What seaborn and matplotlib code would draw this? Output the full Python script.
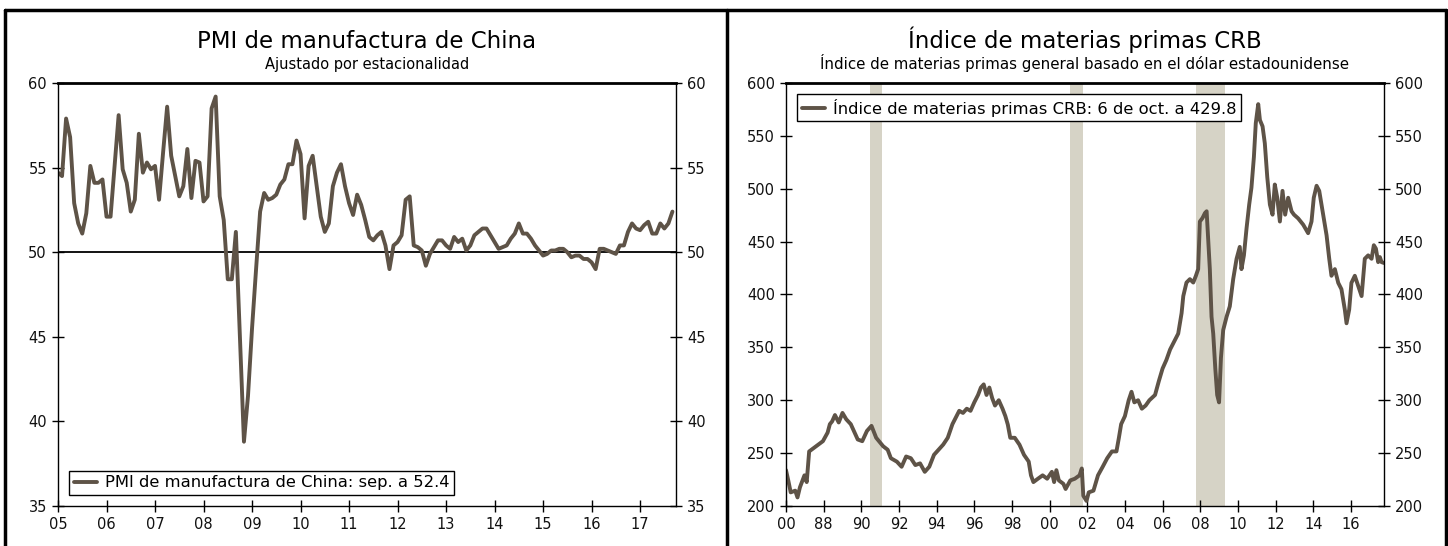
import matplotlib
matplotlib.use("Agg")
import matplotlib.pyplot as plt
import seaborn as sns
import pandas as pd
from matplotlib.lines import Line2D

# China manufacturing PMI, monthly from Jan 2005 to Sep 2017
pmi_values = [
    54.7, 54.5, 57.9, 56.8, 52.9, 51.7, 51.1, 52.3, 55.1, 54.1, 54.1, 54.3,
    52.1, 52.1, 55.1, 58.1, 54.9, 54.1, 52.4, 53.1, 57.0, 54.7, 55.3, 54.9,
    55.1, 53.1, 55.9, 58.6, 55.7, 54.5, 53.3, 53.9, 56.1, 53.2, 55.4, 55.3,
    53.0, 53.3, 58.5, 59.2, 53.3, 51.9, 48.4, 48.4, 51.2, 45.0, 38.8, 41.5,
    45.5, 49.0, 52.4, 53.5, 53.1, 53.2, 53.4, 54.0, 54.3, 55.2, 55.2, 56.6,
    55.8, 52.0, 55.1, 55.7, 53.9, 52.1, 51.2, 51.7, 53.9, 54.7, 55.2, 53.9,
    52.9, 52.2, 53.4, 52.8, 51.9, 50.9, 50.7, 51.0, 51.2, 50.4, 49.0, 50.4,
    50.6, 51.0, 53.1, 53.3, 50.4, 50.3, 50.1, 49.2, 49.9, 50.3, 50.7, 50.7,
    50.4, 50.2, 50.9, 50.6, 50.8, 50.1, 50.4, 51.0, 51.2, 51.4, 51.4, 51.0,
    50.6, 50.2, 50.3, 50.4, 50.8, 51.1, 51.7, 51.1, 51.1, 50.8, 50.4, 50.1,
    49.8, 49.9, 50.1, 50.1, 50.2, 50.2, 50.0, 49.7, 49.8, 49.8, 49.6, 49.6,
    49.4, 49.0, 50.2, 50.2, 50.1, 50.0, 49.9, 50.4, 50.4, 51.2, 51.7, 51.4,
    51.3, 51.6, 51.8, 51.1, 51.1, 51.7, 51.4, 51.7, 52.4,
]
pmi_years = [2005 + i / 12 for i in range(len(pmi_values))]

# CRB commodity index (decimal year, level)
crb_years = [
    1986.00, 1986.12, 1986.25, 1986.49, 1986.61, 1986.74, 1986.98, 1987.10,
    1987.23, 1987.60, 1987.96, 1988.21, 1988.33, 1988.45, 1988.60, 1988.80,
    1989.00, 1989.20, 1989.44, 1989.81, 1990.05, 1990.30, 1990.54, 1990.79,
    1991.16, 1991.40, 1991.57, 1991.89, 1992.14, 1992.38, 1992.63, 1992.87,
    1993.12, 1993.37, 1993.61, 1993.86, 1994.10, 1994.35, 1994.59, 1994.84,
    1995.00, 1995.20, 1995.40, 1995.60, 1995.80, 1996.00, 1996.20, 1996.35,
    1996.50, 1996.65, 1996.80, 1996.95, 1997.10, 1997.30, 1997.50, 1997.65,
    1997.78, 1997.91, 1998.15, 1998.40, 1998.64, 1998.89, 1999.01, 1999.14,
    1999.38, 1999.63, 1999.87, 2000.12, 2000.24, 2000.36, 2000.49, 2000.73,
    2000.85, 2001.10, 2001.34, 2001.59, 2001.71, 2001.79, 2001.96, 2002.08,
    2002.33, 2002.57, 2002.82, 2003.06, 2003.31, 2003.55, 2003.68, 2003.80,
    2004.00, 2004.20, 2004.35, 2004.50, 2004.70, 2004.90, 2005.10, 2005.30,
    2005.60, 2005.80, 2006.00, 2006.20, 2006.40, 2006.60, 2006.83, 2007.01,
    2007.10, 2007.27, 2007.45, 2007.63, 2007.77, 2007.89, 2007.98, 2008.12,
    2008.25, 2008.34, 2008.42, 2008.51, 2008.60, 2008.69, 2008.80, 2008.90,
    2009.00, 2009.10, 2009.22, 2009.40, 2009.57, 2009.75, 2009.93, 2010.10,
    2010.19, 2010.32, 2010.46, 2010.60, 2010.72, 2010.85, 2010.95, 2011.08,
    2011.17, 2011.31, 2011.43, 2011.56, 2011.70, 2011.84, 2011.96, 2012.09,
    2012.23, 2012.37, 2012.51, 2012.67, 2012.85, 2012.98, 2013.20, 2013.47,
    2013.73, 2013.91, 2014.03, 2014.18, 2014.32, 2014.44, 2014.56, 2014.71,
    2014.85, 2014.97, 2015.15, 2015.33, 2015.50, 2015.68, 2015.77, 2015.91,
    2016.03, 2016.21, 2016.39, 2016.57, 2016.74, 2016.92, 2017.10, 2017.22,
    2017.33, 2017.45, 2017.54, 2017.63, 2017.76,
]
crb_values = [
    233.9, 224.2, 212.9, 214.5, 208.1, 217.7, 229.0, 222.6,
    251.6, 256.5, 261.3, 269.4, 277.4, 280.0, 286.0, 279.0,
    288.0, 282.0, 277.4, 262.9, 261.3, 271.0, 275.8, 264.5,
    256.5, 253.2, 245.2, 241.9, 237.1, 246.8, 245.2, 238.7,
    240.3, 232.3, 237.1, 248.4, 253.2, 258.1, 264.5, 277.4,
    283.0, 290.0, 288.0, 292.0, 290.0, 298.0, 305.0, 312.0,
    315.0, 305.0, 312.0, 302.0, 295.0, 300.0, 292.0, 285.0,
    277.0, 264.5, 264.5, 258.0, 248.4, 242.0, 229.0, 222.6,
    225.8, 229.0, 225.8, 232.3, 222.6, 233.9, 224.2, 221.0,
    216.1, 224.2, 225.8, 229.0, 235.5, 209.7, 204.8, 212.9,
    214.5, 229.0, 237.1, 245.2, 251.6, 251.6, 264.5, 277.4,
    285.0, 300.0, 308.0, 298.0, 300.0, 292.0, 295.0, 300.0,
    305.0, 318.0, 330.0, 338.0, 348.0, 355.0, 363.0, 382.4,
    398.5, 411.3, 414.5, 411.3, 417.7, 424.0, 469.0, 472.3,
    477.0, 478.7, 453.0, 424.0, 379.0, 363.0, 330.0, 305.0,
    298.0, 340.0, 366.4, 379.0, 388.8, 414.5, 433.8, 445.0,
    424.0, 437.0, 462.6, 485.0, 501.0, 530.0, 562.0, 580.0,
    565.0, 559.0, 543.0, 511.0, 485.0, 475.5, 504.0, 491.5,
    469.0, 498.0, 475.5, 491.5, 478.7, 475.5, 472.0, 466.0,
    458.0, 469.0, 491.5, 502.8, 498.0, 485.0, 472.0, 456.0,
    434.0, 417.7, 424.0, 411.0, 405.0, 385.6, 372.8, 385.6,
    411.0, 417.7, 408.0, 398.5, 433.8, 437.0, 433.8, 446.6,
    443.4, 430.6, 435.4, 430.6, 429.8,
]

# US recession periods (shaded)
recession_start = [1990.45, 2001.07, 2007.75]
recession_end = [1991.08, 2001.76, 2009.32]

pmi_ticks = list(range(2005, 2018))
pmi_ticklabels = ["05", "06", "07", "08", "09", "10", "11", "12", "13", "14", "15", "16", "17"]
crb_ticks = list(range(1986, 2017, 2))
crb_ticklabels = ["00", "88", "90", "92", "94", "96", "98", "00", "02", "04", "06", "08",
                  "10", "12", "14", "16"]

pmi_df = pd.DataFrame({"year": pmi_years, "pmi": pmi_values})
crb_df = pd.DataFrame({"year": crb_years, "crb": crb_values})

sns.set_style("ticks")
plt.rcParams["font.family"] = ["DejaVu Sans"]
plt.rcParams["text.color"] = "black"

line_color = "#5e5347"
W, H = 1448, 546
fig = plt.figure(figsize=(W / 100, H / 100), dpi=100)
ax1 = fig.add_axes([58 / W, 1 - 506 / H, 618 / W, 423 / H])
ax2 = fig.add_axes([786 / W, 1 - 506 / H, 598 / W, 423 / H])

sns.lineplot(data=pmi_df, x="year", y="pmi", ax=ax1, color=line_color, lw=2.8,
             label="PMI de manufactura de China: sep. a 52.4")
ax1.axhline(50, color="black", lw=1.3, zorder=1)
ax1.set_xlim(2005, 2017.74)
ax1.set_ylim(35, 60)
ax1.set_yticks(range(35, 61, 5))
ax1.set_xticks(pmi_ticks)
ax1.set_xticklabels(pmi_ticklabels)

for a, b in zip(recession_start, recession_end):
    ax2.axvspan(a, b, color="#d6d3c6", lw=0, zorder=0)
sns.lineplot(data=crb_df, x="year", y="crb", ax=ax2, color=line_color, lw=2.8,
             label="Índice de materias primas CRB: 6 de oct. a 429.8")
ax2.set_xlim(1986, 2017.76)
ax2.set_ylim(200, 600)
ax2.set_yticks(range(200, 601, 50))
ax2.set_xticks(crb_ticks)
ax2.set_xticklabels(crb_ticklabels)

for ax, loc in [(ax1, "lower left"), (ax2, "upper left")]:
    ax.set_xlabel("")
    ax.set_ylabel("")
    for side in ["left", "right", "bottom"]:
        ax.spines[side].set_visible(True)
        ax.spines[side].set_linewidth(1.0)
        ax.spines[side].set_color("black")
    ax.spines["top"].set_visible(True)
    ax.spines["top"].set_linewidth(2.0)
    ax.spines["top"].set_color("black")
    ax.tick_params(axis="both", direction="inout", length=8, width=1.0,
                   labelsize=10.5, colors="black", labelcolor="#111111", pad=4)
    ax.tick_params(axis="y", left=True, right=True, labelleft=True, labelright=True)
    ax.tick_params(axis="x", top=False, bottom=True)
    leg = ax.legend(loc=loc, fontsize=11.8, frameon=True, fancybox=False,
                    borderaxespad=0.65, handlelength=1.4, handletextpad=0.5,
                    borderpad=0.3)
    leg.get_frame().set_edgecolor("black")
    leg.get_frame().set_linewidth(1.0)
    leg.get_frame().set_alpha(1)

# titles
fig.text(367 / W, 1 - 48 / H, "PMI de manufactura de China", ha="center", va="baseline",
         fontsize=16.5)
fig.text(367 / W, 1 - 69 / H, "Ajustado por estacionalidad", ha="center", va="baseline",
         fontsize=10.5)
fig.text(1085 / W, 1 - 48 / H, "Índice de materias primas CRB", ha="center", va="baseline",
         fontsize=16.5)
fig.text(1085 / W, 1 - 69 / H,
         "Índice de materias primas general basado en el dólar estadounidense",
         ha="center", va="baseline", fontsize=10.8)

# panel frame
frame_kw = dict(color="black", lw=2.5, transform=fig.transFigure)
fig.add_artist(Line2D([5 / W, 1446 / W], [1 - 10 / H, 1 - 10 / H], **frame_kw))
fig.add_artist(Line2D([5 / W, 5 / W], [0, 1 - 10 / H], **frame_kw))
fig.add_artist(Line2D([727 / W, 727 / W], [0, 1 - 10 / H], **frame_kw))
fig.add_artist(Line2D([1446 / W, 1446 / W], [0, 1 - 10 / H], **frame_kw))

fig.savefig("out.png", dpi=100)
